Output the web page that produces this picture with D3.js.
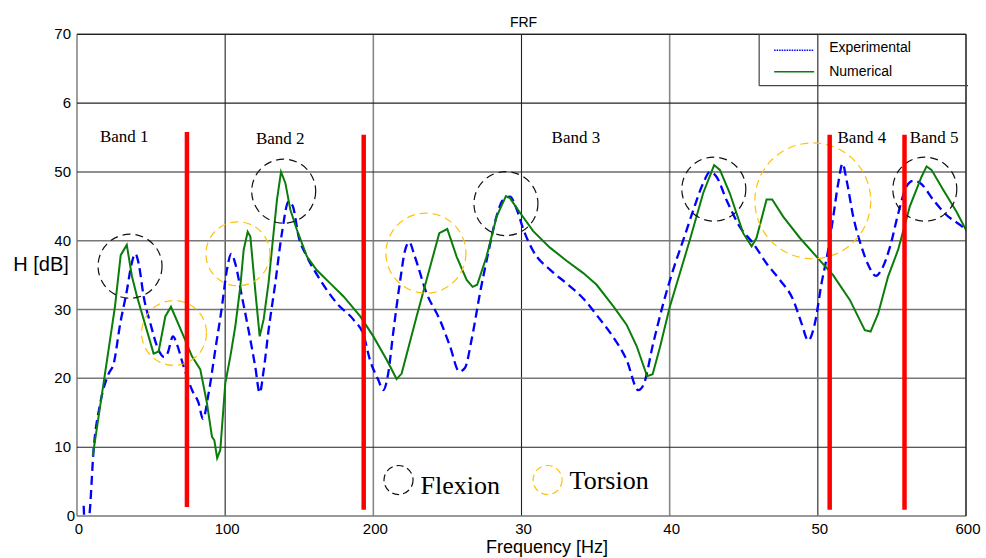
<!DOCTYPE html>
<html>
<head>
<meta charset="utf-8">
<script src="https://cdn.jsdelivr.net/npm/d3@7"></script>
<style>
  body { margin: 0; background: #fff; }
  svg { display: block; }
</style>
</head>
<body>
<div id="container"></div>
<script>
// Experimental FRF (dashed blue)
var freqExp = [4.5, 5.5, 7.5, 8.3, 11.2, 15.7, 21.4, 24.7, 29.2, 33.7, 36.4, 39.4, 41.6, 45, 49.5, 55.1, 58.9, 61.2, 64.8, 67.5, 72, 77.6, 82.1, 85,
  88.8, 93.3, 97.8, 101.2, 104.1, 106.8, 111.3, 115.8, 120.3, 123.3, 126, 129.3, 133.8, 138.3, 142.8, 145.7, 149.6, 155.2, 164.2, 175.4, 186.7, 193.4,
  197.7, 203.3, 206.7, 210.1, 213.4, 217.9, 221.3, 224.2, 228, 235.9, 244.9, 251.7, 258, 261.8, 266.3, 272, 277.6, 283.2, 287.7, 292.2, 296.7, 301.2,
  307.9, 319.2, 330.4, 341.7, 351.8, 361.9, 370.9, 378.8, 382.2, 388.9, 395.7, 402.4, 410.3, 416, 422.7, 427.1, 431.6, 438.4, 447.4, 456.4, 465.4,
  474.4, 483.4, 489, 493.5, 498, 502.5, 507, 510.4, 513.8, 516.7, 519.4, 523.9, 529.5, 534, 539.2, 543, 548.7, 554.3, 559.9, 564.4, 569, 578, 587, 596, 601.6]
var dbExp = [1.5, -2, -1, 0, 9.6, 16.4, 20.7, 22.1, 28, 32.8, 36.2, 38.1, 36.7, 31.9, 28, 24.1, 23.1, 23.7, 26.1, 24.9, 21.7, 18.3, 16.4, 14.1,
  17.8, 24.1, 30.4, 35.8, 38.1, 36.7, 31.9, 27, 21.7, 17.9, 21.2, 27, 33.8, 41.1, 45.7, 45, 40.6, 37.7, 34.3, 30.9, 28.5, 26.3,
  22.7, 19.8, 18.3, 20.8, 26.6, 33.9, 38.5, 39.8, 37.7, 32.4, 28.5, 24.7, 21, 21.5, 25.6, 32.4, 38.3, 43.6, 46, 46.4, 44.6, 41.7,
  38.5, 35.8, 33.8, 31.6, 28.9, 26, 22.7, 18.3, 19, 25.1, 30.9, 35.8, 40.8, 44.5, 48.4, 50, 49.3, 45.9, 42, 39.6, 36.7,
  34.3, 31.4, 28, 25.5, 28, 33.8, 38.7, 43.5, 48.4, 51.2, 48.8, 43.5, 39.1, 36.5, 34.9, 35.8, 39.1, 44, 47.9, 48.7, 48.4, 45.9, 43.7, 42.3, 41.3]

// Numerical FRF (solid green)
var freqNum = [10.6, 25.6, 29.5, 33.6, 37.1, 40.5, 51.7, 55.1, 59.6, 63.4, 72, 77.6, 83.2, 87.7, 91.1, 92.7, 94.6, 96.7, 100.1, 103.5, 106.8, 110.2,
  112.5, 115.2, 117, 120.3, 123.3, 126, 129.3, 132.7, 135, 137.7, 140.6, 144, 148.4, 155.2, 161.9, 170.9, 179.9, 191.2, 200, 209, 215.7, 219.1,
  229.2, 244.5, 249.9, 256.2, 263, 267, 270.1, 276.4, 283.2, 289.5, 292.2, 298.9, 307.9, 319.2, 330.4, 341.7, 350.7, 361.9, 370.9, 377.7, 384.8,
  388.5, 393.4, 400.1, 413.6, 422.6, 430, 433.9, 440.6, 449.6, 455.3, 458.6, 465.4, 469.2, 476.6, 487.9, 499.1, 510.3, 521.6, 531.7, 535.6, 540.7,
  547.4, 554.2, 562.1, 570, 573.4, 576.7, 584.6, 593.6, 600.7]
var dbNum = [8.7, 30.4, 37.9, 39.4, 34.8, 31.9, 23.6, 23.9, 29, 30.4, 26.1, 23.2, 21.3, 16.4, 11.5, 11, 8.4, 9.6, 19.3, 23.2, 27.5, 33.3,
  38.7, 41.3, 40.6, 32.8, 26.1, 28.6, 33.9, 41.2, 46, 50, 48.4, 44.5, 41.6, 37.7, 35.7, 33.8, 31.9, 29, 26.1, 22.7, 19.9, 20.7,
  29, 41.1, 41.7, 37.7, 34.3, 33.3, 33.6, 37.7, 43.5, 46.5, 46.2, 44.1, 41.4, 39, 37.1, 35.3, 33.6, 30.5, 27.8, 24.7, 20.3,
  20.6, 24.5, 30.4, 40.1, 46.9, 51, 50.3, 46.9, 41.1, 39.2, 40.4, 46, 46, 43.5, 40.4, 37.7, 35, 31.4, 27, 26.8, 29.4,
  34.8, 38.7, 45, 49.3, 50.8, 50.3, 47.4, 44.2, 41.3]

// Axes
var xTicks = [0, 100, 200, 300, 400, 500, 600]
var xTickLabels = ["0", "100", "200", "30", "40", "50", "600"]
var yTicks = [0, 10, 20, 30, 40, 50, 60, 70]
var yTickLabels = ["0", "10", "20", "30", "40", "50", "6", "70"]

// Band separators (Hz) and their dB extent
var bandLines = [74.2, 193.5, 508, 558.5]
var bandTop = [55.8, 55.4, 55.4, 55.4]
var bandBottom = [1.3, 0.9, 0.9, 0.9]
var bandNames = ["Band 1", "Band 2", "Band 3", "Band 4", "Band 5"]
var bandNameFreq = [15.5, 120.8, 320.3, 513.3, 562.1]
var bandNameDb = [54.3, 54.0, 54.2, 54.2, 54.2]

// Mode markers: centre (Hz, dB), radius in Hz
var flexFreq = [35.8, 139.5, 289.5, 429.8, 572.2]
var flexDb = [36.3, 47.2, 45.4, 47.5, 47.5]
var flexR = [21.6, 21.6, 21.6, 21.6, 21.6]
var torsFreq = [65.5, 108.6, 235.5, 496.6]
var torsDb = [26.6, 38.1, 38.2, 45.8]
var torsR = [21.9, 21.6, 27, 39.1]

var margin = { top: 34.3, left: 77, right: 20, bottom: 42 },
  width = 986 - margin.left - margin.right,
  height = 558 - margin.top - margin.bottom,
  plotW = 889,
  plotH = 481.7

var svg = d3.select("#container")
  .append("svg")
  .attr("width", 986)
  .attr("height", 558)
  .append("g")
  .attr("transform", "translate(" + margin.left + "," + margin.top + ")")

var x = d3.scaleLinear().domain([0, 600]).range([0, plotW])
var y = d3.scaleLinear().domain([0, 70]).range([plotH, 0])

var sans = "Liberation Sans, Arial, sans-serif"
var serif = "Liberation Serif, Times New Roman, serif"

svg.append("clipPath").attr("id", "clip")
  .append("rect").attr("width", plotW).attr("height", plotH)

// Grid
svg.selectAll(".vgrid")
  .data(xTicks)
  .enter().append("line")
  .attr("x1", function(d) { return x(d) })
  .attr("x2", function(d) { return x(d) })
  .attr("y1", 0)
  .attr("y2", plotH)
  .attr("stroke", function(d, i) { return i % 2 == 0 ? "#888" : "#222" })
  .attr("stroke-width", function(d, i) { return i % 2 == 0 ? 1.6 : 1.1 })

svg.selectAll(".hgrid")
  .data(yTicks)
  .enter().append("line")
  .attr("x1", 0)
  .attr("x2", plotW)
  .attr("y1", function(d) { return y(d) })
  .attr("y2", function(d) { return y(d) })
  .attr("stroke", function(d) { return (d == 0 || (d >= 20 && d <= 40)) ? "#777" : "#222" })
  .attr("stroke-width", function(d) { return (d == 0 || (d >= 20 && d <= 40)) ? 1.5 : 1.1 })

// Tick labels
svg.selectAll(".xlabel")
  .data(xTicks)
  .enter().append("text")
  .attr("x", function(d) { return x(d) + 2 })
  .attr("y", plotH + 18)
  .attr("text-anchor", "middle")
  .attr("font-family", sans)
  .attr("font-size", 15)
  .text(function(d, i) { return xTickLabels[i] })

svg.selectAll(".ylabel")
  .data(yTicks)
  .enter().append("text")
  .attr("x", function(d) { return d == 0 ? -2 : -6 })
  .attr("y", function(d) { return y(d) + 5 })
  .attr("text-anchor", "end")
  .attr("font-family", sans)
  .attr("font-size", 15)
  .text(function(d, i) { return yTickLabels[i] })

// Titles
svg.append("text")
  .text("FRF")
  .attr("x", x(300) + 2)
  .attr("y", -7)
  .attr("text-anchor", "middle")
  .attr("font-family", sans)
  .attr("font-size", 14)

svg.append("text")
  .text("Frequency [Hz]")
  .attr("x", 470)
  .attr("y", plotH + 37.5)
  .attr("text-anchor", "middle")
  .attr("font-family", sans)
  .attr("font-size", 18)

svg.append("text")
  .text("H [dB]")
  .attr("x", -36)
  .attr("y", 237)
  .attr("text-anchor", "middle")
  .attr("font-family", sans)
  .attr("font-size", 20)

// Curves
var lineExp = d3.line()
  .x(function(d, i) { return x(freqExp[i]) })
  .y(function(d, i) { return y(dbExp[i]) })
  .curve(d3.curveMonotoneX)

var lineNum = d3.line()
  .x(function(d, i) { return x(freqNum[i]) })
  .y(function(d, i) { return y(dbNum[i]) })

svg.append("path")
  .datum(freqExp)
  .attr("d", lineExp)
  .attr("clip-path", "url(#clip)")
  .attr("fill", "none")
  .attr("stroke", "#0000ff")
  .attr("stroke-width", 2.3)
  .attr("stroke-dasharray", "9,5")

svg.append("path")
  .datum(freqNum)
  .attr("d", lineNum)
  .attr("clip-path", "url(#clip)")
  .attr("fill", "none")
  .attr("stroke", "#0a7d0a")
  .attr("stroke-width", 2)

// Mode circles
svg.selectAll(".flex")
  .data(flexFreq)
  .enter().append("circle")
  .attr("cx", function(d) { return x(d) })
  .attr("cy", function(d, i) { return y(flexDb[i]) })
  .attr("r", function(d, i) { return x(flexR[i]) - x(0) })
  .attr("fill", "none")
  .attr("stroke", "#111")
  .attr("stroke-width", 1.2)
  .attr("stroke-dasharray", "8,5")

svg.selectAll(".tors")
  .data(torsFreq)
  .enter().append("circle")
  .attr("cx", function(d) { return x(d) })
  .attr("cy", function(d, i) { return y(torsDb[i]) })
  .attr("r", function(d, i) { return x(torsR[i]) - x(0) })
  .attr("fill", "none")
  .attr("stroke", "#ffc20e")
  .attr("stroke-width", 1.2)
  .attr("stroke-dasharray", "8,5")

// Band separators
svg.selectAll(".band")
  .data(bandLines)
  .enter().append("line")
  .attr("x1", function(d) { return x(d) })
  .attr("x2", function(d) { return x(d) })
  .attr("y1", function(d, i) { return y(bandTop[i]) })
  .attr("y2", function(d, i) { return y(bandBottom[i]) })
  .attr("stroke", "#ff0000")
  .attr("stroke-width", 4.5)

svg.selectAll(".bandname")
  .data(bandNames)
  .enter().append("text")
  .attr("x", function(d, i) { return x(bandNameFreq[i]) })
  .attr("y", function(d, i) { return y(bandNameDb[i]) })
  .attr("font-family", serif)
  .attr("font-size", 17)
  .text(function(d) { return d })

// Frame
svg.append("line")
  .attr("x1", 0).attr("x2", plotW).attr("y1", 0).attr("y2", 0)
  .attr("stroke", "#222").attr("stroke-width", 1.2)
svg.append("line")
  .attr("x1", plotW).attr("x2", plotW).attr("y1", 0).attr("y2", plotH)
  .attr("stroke", "#222").attr("stroke-width", 1.2)

// Legend (top right)
var legX = x(460.4), legBottom = 51.4
svg.append("line")
  .attr("x1", legX).attr("x2", legX).attr("y1", 0).attr("y2", legBottom)
  .attr("stroke", "#444").attr("stroke-width", 1.2)
svg.append("line")
  .attr("x1", legX).attr("x2", plotW + 2).attr("y1", legBottom).attr("y2", legBottom)
  .attr("stroke", "#444").attr("stroke-width", 1.2)

svg.append("line")
  .attr("x1", legX + 15).attr("x2", legX + 55).attr("y1", 16).attr("y2", 16)
  .attr("stroke", "#0000ff").attr("stroke-width", 1.4).attr("stroke-dasharray", "1.5,1")
svg.append("line")
  .attr("x1", legX + 15).attr("x2", legX + 55).attr("y1", 37.5).attr("y2", 37.5)
  .attr("stroke", "#0a7d0a").attr("stroke-width", 1.6)

svg.append("text")
  .text("Experimental")
  .attr("x", legX + 70).attr("y", 18)
  .attr("font-family", sans).attr("font-size", 14)
svg.append("text")
  .text("Numerical")
  .attr("x", legX + 70).attr("y", 41.5)
  .attr("font-family", sans).attr("font-size", 14)

// Mode legend (bottom)
var modeKey = ["Flexion", "Torsion"]
var modeKeyFreq = [217, 317.6]
var modeKeyColor = ["#111", "#ffc20e"]
svg.selectAll(".modekey")
  .data(modeKey)
  .enter().append("circle")
  .attr("cx", function(d, i) { return x(modeKeyFreq[i]) })
  .attr("cy", y(5.23))
  .attr("r", x(9.8) - x(0))
  .attr("fill", "none")
  .attr("stroke", function(d, i) { return modeKeyColor[i] })
  .attr("stroke-width", 1.2)
  .attr("stroke-dasharray", "7,4")

svg.selectAll(".modetext")
  .data(modeKey)
  .enter().append("text")
  .attr("x", function(d, i) { return x(modeKeyFreq[i]) + 22 })
  .attr("y", function(d, i) { return i == 0 ? y(5.23) + 14 : y(5.23) + 9 })
  .attr("font-family", serif)
  .attr("font-size", 26)
  .text(function(d) { return d })
</script>
</body>
</html>
